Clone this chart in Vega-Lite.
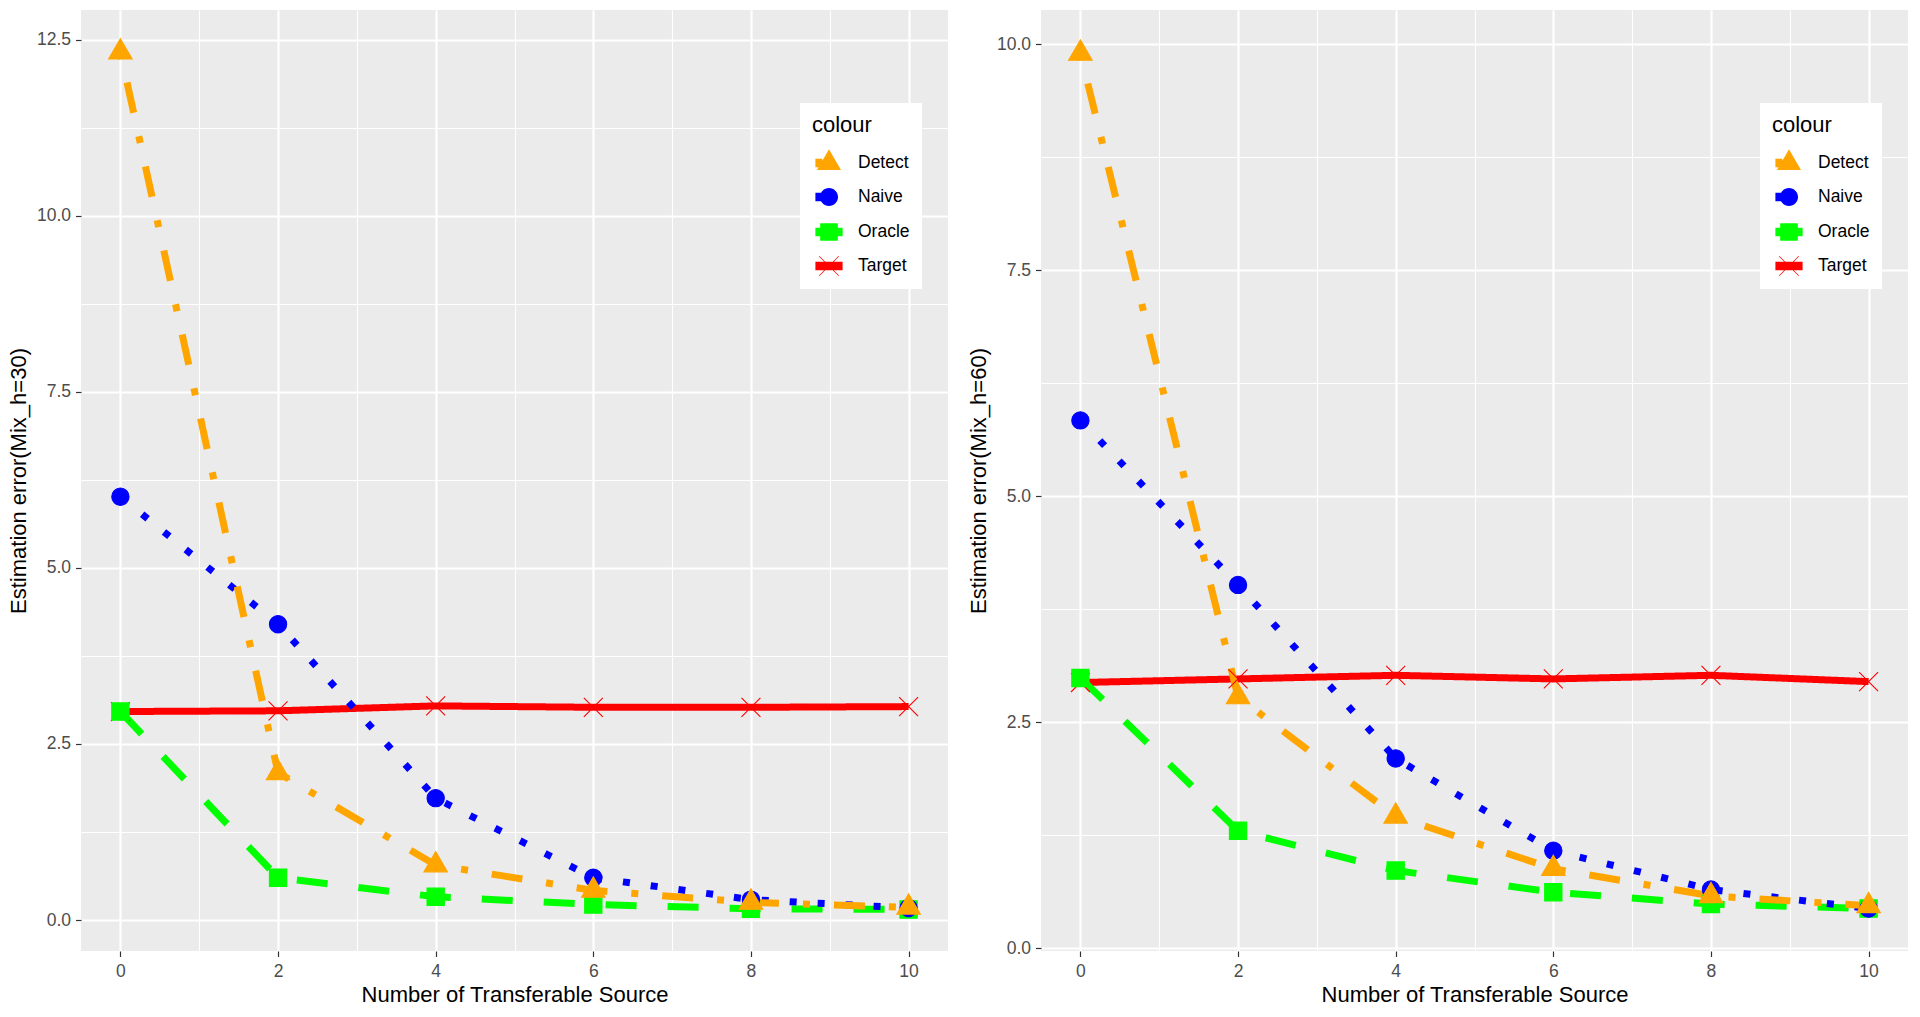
{
  "$schema": "https://vega.github.io/schema/vega-lite/v6.json",
  "padding": {"left": 7, "top": 10, "right": 0, "bottom": 0},
  "background": "white",
  "datasets": {
    "h30": [
      {"x": 0, "series": "Target", "y": 2.96},
      {"x": 2, "series": "Target", "y": 2.97},
      {"x": 4, "series": "Target", "y": 3.04},
      {"x": 6, "series": "Target", "y": 3.02},
      {"x": 8, "series": "Target", "y": 3.02},
      {"x": 10, "series": "Target", "y": 3.03},
      {"x": 0, "series": "Oracle", "y": 2.96},
      {"x": 2, "series": "Oracle", "y": 0.6},
      {"x": 4, "series": "Oracle", "y": 0.33},
      {"x": 6, "series": "Oracle", "y": 0.22},
      {"x": 8, "series": "Oracle", "y": 0.16},
      {"x": 10, "series": "Oracle", "y": 0.15},
      {"x": 0, "series": "Naive", "y": 6.01},
      {"x": 2, "series": "Naive", "y": 4.2},
      {"x": 4, "series": "Naive", "y": 1.73},
      {"x": 6, "series": "Naive", "y": 0.6},
      {"x": 8, "series": "Naive", "y": 0.29},
      {"x": 10, "series": "Naive", "y": 0.17},
      {"x": 0, "series": "Detect", "y": 12.32},
      {"x": 2, "series": "Detect", "y": 2.09},
      {"x": 4, "series": "Detect", "y": 0.78},
      {"x": 6, "series": "Detect", "y": 0.42},
      {"x": 8, "series": "Detect", "y": 0.25},
      {"x": 10, "series": "Detect", "y": 0.18}
    ],
    "h60": [
      {"x": 0, "series": "Target", "y": 2.94},
      {"x": 2, "series": "Target", "y": 2.98},
      {"x": 4, "series": "Target", "y": 3.02},
      {"x": 6, "series": "Target", "y": 2.98},
      {"x": 8, "series": "Target", "y": 3.02},
      {"x": 10, "series": "Target", "y": 2.95},
      {"x": 0, "series": "Oracle", "y": 2.99},
      {"x": 2, "series": "Oracle", "y": 1.3},
      {"x": 4, "series": "Oracle", "y": 0.86},
      {"x": 6, "series": "Oracle", "y": 0.62},
      {"x": 8, "series": "Oracle", "y": 0.49},
      {"x": 10, "series": "Oracle", "y": 0.44},
      {"x": 0, "series": "Naive", "y": 5.84},
      {"x": 2, "series": "Naive", "y": 4.02},
      {"x": 4, "series": "Naive", "y": 2.1},
      {"x": 6, "series": "Naive", "y": 1.08},
      {"x": 8, "series": "Naive", "y": 0.65},
      {"x": 10, "series": "Naive", "y": 0.44},
      {"x": 0, "series": "Detect", "y": 9.9},
      {"x": 2, "series": "Detect", "y": 2.78},
      {"x": 4, "series": "Detect", "y": 1.46},
      {"x": 6, "series": "Detect", "y": 0.88},
      {"x": 8, "series": "Detect", "y": 0.58},
      {"x": 10, "series": "Detect", "y": 0.47}
    ]
  },
  "config": {
    "font": "Liberation Sans",
    "view": {"fill": "#EBEBEB", "stroke": null},
    "axis": {
      "domain": false,
      "gridColor": "#FFFFFF",
      "tickColor": "#333333",
      "tickWidth": 1.2,
      "tickSize": 5.5,
      "labelColor": "#4D4D4D",
      "labelFont": "Liberation Sans",
      "labelFontSize": 17.5,
      "titleFont": "Liberation Sans",
      "titleFontSize": 22,
      "titleFontWeight": "normal",
      "titleColor": "#000000",
      "labelPadding": 3
    },
    "axisX": {"labelPadding": 5.5, "titlePadding": 5},
    "axisY": {"labelPadding": 5, "titlePadding": 6},
    "legend": {
      "orient": "none",
      "legendX": 719,
      "legendY": 93,
      "fillColor": "#FFFFFF",
      "padding": 12,
      "titleFont": "Liberation Sans",
      "titleFontSize": 22,
      "titleFontWeight": "normal",
      "titleColor": "#000000",
      "titlePadding": 9,
      "labelFont": "Liberation Sans",
      "labelFontSize": 17.5,
      "labelColor": "#000000",
      "labelOffset": 12,
      "symbolSize": 1156,
      "symbolStrokeWidth": 0,
      "rowPadding": 8
    }
  },
  "resolve": {"scale": {"x": "independent", "y": "independent"}},
  "bounds": "flush",
  "spacing": 93,
  "hconcat": [
    {
      "width": 867,
      "height": 941,
      "data": {"name": "h30"},
      "encoding": {
        "x": {
          "field": "x", "type": "quantitative",
          "scale": {"domain": [-0.5, 10.5], "nice": false, "zero": false},
          "axis": {
            "title": "Number of Transferable Source",
            "values": [0, 1, 2, 3, 4, 5, 6, 7, 8, 9, 10],
            "labelExpr": "datum.value % 2 === 0 ? datum.label : ''",
            "gridWidth": {"condition": {"test": "datum.value % 2 === 0", "value": 2.2}, "value": 1.1},
            "tickOpacity": {"condition": {"test": "datum.value % 2 === 0", "value": 1}, "value": 0}
          }
        },
        "y": {
          "field": "y", "type": "quantitative",
          "scale": {"domain": [-0.44, 12.92], "nice": false, "zero": false},
          "axis": {
            "title": "Estimation error(Mix_h=30)",
            "values": [0, 1.25, 2.5, 3.75, 5, 6.25, 7.5, 8.75, 10, 11.25, 12.5],
            "labelExpr": "datum.value % 2.5 === 0 ? format(datum.value, '.1f') : ''",
            "gridWidth": {"condition": {"test": "datum.value % 2.5 === 0", "value": 2.2}, "value": 1.1},
            "tickOpacity": {"condition": {"test": "datum.value % 2.5 === 0", "value": 1}, "value": 0}
          }
        }
      },
      "layer": [
        {
          "mark": {"type": "line", "strokeWidth": 7, "strokeCap": "butt", "strokeJoin": "round"},
          "encoding": {
            "stroke": {"field": "series", "type": "nominal", "legend": null,
              "scale": {"domain": ["Target", "Oracle", "Naive", "Detect"], "range": ["#FF0000", "#00FF00", "#0000FF", "#FFA500"]}},
            "strokeDash": {"field": "series", "type": "nominal", "legend": null,
              "scale": {"domain": ["Target", "Oracle", "Naive", "Detect"], "range": [[1, 0], [31, 31], [7, 21], [7, 24, 31, 24]]}}
          }
        },
        {
          "mark": {"type": "point", "filled": true, "opacity": 1, "strokeWidth": 1.1, "size": 576},
          "encoding": {
            "fill": {"field": "series", "type": "nominal", "legend": null,
              "scale": {"domain": ["Target", "Oracle", "Naive", "Detect"], "range": ["#FF0000", "#00FF00", "#0000FF", "#FFA500"]}},
            "stroke": {"field": "series", "type": "nominal", "legend": null,
              "scale": {"domain": ["Target", "Oracle", "Naive", "Detect"], "range": ["#FF0000", "#00FF00", "#0000FF", "#FFA500"]}},
            "shape": {"field": "series", "type": "nominal", "legend": null,
              "scale": {"domain": ["Target", "Oracle", "Naive", "Detect"],
                "range": ["M-0.79,-0.79L0.79,0.79M-0.79,0.79L0.79,-0.79",
                          "M-0.72,-0.72L0.72,-0.72L0.72,0.72L-0.72,0.72Z",
                          "M-0.72,0A0.72,0.72 0 1,1 0.72,0A0.72,0.72 0 1,1 -0.72,0Z",
                          "M0,-1.13L0.98,0.565L-0.98,0.565Z"]}}
          }
        },
        {
          "transform": [{"filter": "datum.y < -1000"}],
          "mark": {"type": "point", "filled": true, "opacity": 1},
          "encoding": {
            "color": {"field": "series", "type": "nominal", "title": "colour",
              "scale": {"domain": ["Detect", "Naive", "Oracle", "Target"], "range": ["#FFA500", "#0000FF", "#00FF00", "#FF0000"]}},
            "shape": {"field": "series", "type": "nominal", "title": "colour",
              "scale": {"domain": ["Detect", "Naive", "Oracle", "Target"],
                "range": ["M-0.8,-0.25L-0.39,-0.25L-0.39,0.25L-0.8,0.25Z M0,-0.815L0.706,0.408L-0.706,0.408Z",
                          "M-0.8,-0.25L-0.39,-0.25L-0.39,0.25L-0.8,0.25Z M-0.53,0A0.53,0.53 0 1,1 0.53,0A0.53,0.53 0 1,1 -0.53,0Z",
                          "M-0.8,-0.25L0.8,-0.25L0.8,0.25L-0.8,0.25Z M-0.52,-0.52L0.52,-0.52L0.52,0.52L-0.52,0.52Z",
                          "M-0.8,-0.25L0.8,-0.25L0.8,0.25L-0.8,0.25Z M-0.59,-0.56L-0.56,-0.59L0.59,0.56L0.56,0.59Z M0.56,-0.59L0.59,-0.56L-0.56,0.59L-0.59,0.56Z"]}}
          }
        }
      ],
      "resolve": {"scale": {"shape": "independent", "color": "independent"}}
    },
    {
      "width": 867,
      "height": 941,
      "data": {"name": "h60"},
      "encoding": {
        "x": {
          "field": "x", "type": "quantitative",
          "scale": {"domain": [-0.5, 10.5], "nice": false, "zero": false},
          "axis": {
            "title": "Number of Transferable Source",
            "values": [0, 1, 2, 3, 4, 5, 6, 7, 8, 9, 10],
            "labelExpr": "datum.value % 2 === 0 ? datum.label : ''",
            "gridWidth": {"condition": {"test": "datum.value % 2 === 0", "value": 2.2}, "value": 1.1},
            "tickOpacity": {"condition": {"test": "datum.value % 2 === 0", "value": 1}, "value": 0}
          }
        },
        "y": {
          "field": "y", "type": "quantitative",
          "scale": {"domain": [-0.03, 10.38], "nice": false, "zero": false},
          "axis": {
            "title": "Estimation error(Mix_h=60)",
            "values": [0, 1.25, 2.5, 3.75, 5, 6.25, 7.5, 8.75, 10],
            "labelExpr": "datum.value % 2.5 === 0 ? format(datum.value, '.1f') : ''",
            "gridWidth": {"condition": {"test": "datum.value % 2.5 === 0", "value": 2.2}, "value": 1.1},
            "tickOpacity": {"condition": {"test": "datum.value % 2.5 === 0", "value": 1}, "value": 0}
          }
        }
      },
      "layer": [
        {
          "mark": {"type": "line", "strokeWidth": 7, "strokeCap": "butt", "strokeJoin": "round"},
          "encoding": {
            "stroke": {"field": "series", "type": "nominal", "legend": null,
              "scale": {"domain": ["Target", "Oracle", "Naive", "Detect"], "range": ["#FF0000", "#00FF00", "#0000FF", "#FFA500"]}},
            "strokeDash": {"field": "series", "type": "nominal", "legend": null,
              "scale": {"domain": ["Target", "Oracle", "Naive", "Detect"], "range": [[1, 0], [31, 31], [7, 21], [7, 24, 31, 24]]}}
          }
        },
        {
          "mark": {"type": "point", "filled": true, "opacity": 1, "strokeWidth": 1.1, "size": 576},
          "encoding": {
            "fill": {"field": "series", "type": "nominal", "legend": null,
              "scale": {"domain": ["Target", "Oracle", "Naive", "Detect"], "range": ["#FF0000", "#00FF00", "#0000FF", "#FFA500"]}},
            "stroke": {"field": "series", "type": "nominal", "legend": null,
              "scale": {"domain": ["Target", "Oracle", "Naive", "Detect"], "range": ["#FF0000", "#00FF00", "#0000FF", "#FFA500"]}},
            "shape": {"field": "series", "type": "nominal", "legend": null,
              "scale": {"domain": ["Target", "Oracle", "Naive", "Detect"],
                "range": ["M-0.79,-0.79L0.79,0.79M-0.79,0.79L0.79,-0.79",
                          "M-0.72,-0.72L0.72,-0.72L0.72,0.72L-0.72,0.72Z",
                          "M-0.72,0A0.72,0.72 0 1,1 0.72,0A0.72,0.72 0 1,1 -0.72,0Z",
                          "M0,-1.13L0.98,0.565L-0.98,0.565Z"]}}
          }
        },
        {
          "transform": [{"filter": "datum.y < -1000"}],
          "mark": {"type": "point", "filled": true, "opacity": 1},
          "encoding": {
            "color": {"field": "series", "type": "nominal", "title": "colour",
              "scale": {"domain": ["Detect", "Naive", "Oracle", "Target"], "range": ["#FFA500", "#0000FF", "#00FF00", "#FF0000"]}},
            "shape": {"field": "series", "type": "nominal", "title": "colour",
              "scale": {"domain": ["Detect", "Naive", "Oracle", "Target"],
                "range": ["M-0.8,-0.25L-0.39,-0.25L-0.39,0.25L-0.8,0.25Z M0,-0.815L0.706,0.408L-0.706,0.408Z",
                          "M-0.8,-0.25L-0.39,-0.25L-0.39,0.25L-0.8,0.25Z M-0.53,0A0.53,0.53 0 1,1 0.53,0A0.53,0.53 0 1,1 -0.53,0Z",
                          "M-0.8,-0.25L0.8,-0.25L0.8,0.25L-0.8,0.25Z M-0.52,-0.52L0.52,-0.52L0.52,0.52L-0.52,0.52Z",
                          "M-0.8,-0.25L0.8,-0.25L0.8,0.25L-0.8,0.25Z M-0.59,-0.56L-0.56,-0.59L0.59,0.56L0.56,0.59Z M0.56,-0.59L0.59,-0.56L-0.56,0.59L-0.59,0.56Z"]}}
          }
        }
      ],
      "resolve": {"scale": {"shape": "independent", "color": "independent"}}
    }
  ]
}
